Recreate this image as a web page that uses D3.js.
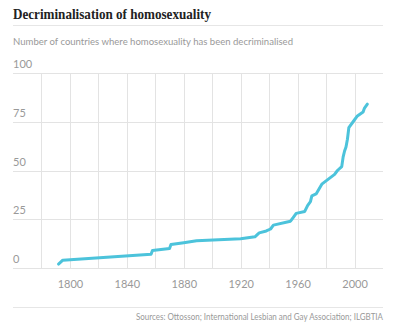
<!DOCTYPE html>
<html><head><meta charset="utf-8">
<script src="https://cdn.jsdelivr.net/npm/d3@7"></script>
<style>
html,body{margin:0;padding:0;background:#fff;}
svg{display:block;}
</style></head>
<body>
<svg id="chart" width="400" height="331"></svg>
<script>
const title = "Decriminalisation of homosexuality";
const subtitle = "Number of countries where homosexuality has been decriminalised";
const source = "Sources: Ottosson; International Lesbian and Gay Association; ILGBTIA";
const years = [1792,1795,1857,1858,1870,1871,1880,1889,1920,1930,1933,1938,1941,1943,1955,1957,1959,1965,1967,1969,1970,1973,1977,1986,1988,1991,1992,1993,1994,1995,1996,1999,2002,2006,2007,2009];
const counts = [2,4,7,9,10,12,13,14,15,16,18,19,20,22,24,26,28,29,32,34,37,38,43,48,50,52,57,60,62,66,72,75,78,80,82,84];
const xTicks = [1800,1840,1880,1920,1960,2000];
const xGrid = [1780,1800,1820,1840,1860,1880,1900,1920,1940,1960,1980,2000];
const yTicks = [0,25,50,75,100];

const svg = d3.select("#chart");
const L = 13, R = 383, T = 73, B = 268;
const x = d3.scaleLinear().domain([1760,2020]).range([L,R]);
const y = d3.scaleLinear().domain([0,100]).range([B,T]);
const sans = "Lato, 'Open Sans', sans-serif";

svg.append("text").attr("x",L).attr("y",19)
  .attr("font-family","'Liberation Serif', 'DejaVu Serif', serif").attr("font-weight","bold")
  .attr("font-size",15).attr("fill","#222")
  .attr("textLength",198).attr("lengthAdjust","spacingAndGlyphs").text(title);
svg.append("line").attr("x1",L).attr("x2",R).attr("y1",25.5).attr("y2",25.5)
  .attr("stroke","#e6e6e6").attr("stroke-width",1);
svg.append("text").attr("x",L).attr("y",45)
  .attr("font-family",sans).attr("font-size",10).attr("fill","#999")
  .attr("textLength",280).attr("lengthAdjust","spacingAndGlyphs").text(subtitle);

// grid
const g = svg.append("g");
g.selectAll(".v").data(xGrid).join("line")
  .attr("x1",d=>Math.round(x(d))+0.5).attr("x2",d=>Math.round(x(d))+0.5)
  .attr("y1",T).attr("y2",B).attr("stroke","#e3e3e3").attr("stroke-width",1);
g.selectAll(".h").data(yTicks).join("line")
  .attr("x1",L).attr("x2",R)
  .attr("y1",d=>Math.round(y(d))+0.5).attr("y2",d=>Math.round(y(d))+0.5)
  .attr("stroke","#e3e3e3").attr("stroke-width",1);

// y labels
g.selectAll(".yl").data(yTicks).join("text")
  .attr("x",L).attr("y",d=>y(d)-5)
  .attr("font-family",sans).attr("font-size",11).attr("fill","#999")
  .text(d=>d);

// x axis labels
const xAxis = d3.axisBottom(x).tickValues(xTicks).tickSize(0).tickPadding(0).tickFormat(d3.format("d"));
const xa = svg.append("g").attr("transform",`translate(0,${B+20})`).call(xAxis);
xa.select(".domain").remove();
xa.selectAll("text").attr("font-family",sans).attr("font-size",11).attr("fill","#999").attr("dy",0);

// line
const data = years.map((yr,i)=>({yr, c:counts[i]}));
svg.append("path").datum(data)
  .attr("fill","none").attr("stroke","#4cc3db").attr("stroke-width",3)
  .attr("stroke-linejoin","round").attr("stroke-linecap","round")
  .attr("d", d3.line().x(d=>x(d.yr)).y(d=>y(d.c)));

// footer
svg.append("line").attr("x1",L).attr("x2",R).attr("y1",307.5).attr("y2",307.5)
  .attr("stroke","#e6e6e6").attr("stroke-width",1);
svg.append("text").attr("x",R).attr("y",320).attr("text-anchor","end")
  .attr("font-family",sans).attr("font-size",8.5).attr("fill","#999")
  .attr("textLength",247).attr("lengthAdjust","spacingAndGlyphs").text(source);
</script>
</body></html>
